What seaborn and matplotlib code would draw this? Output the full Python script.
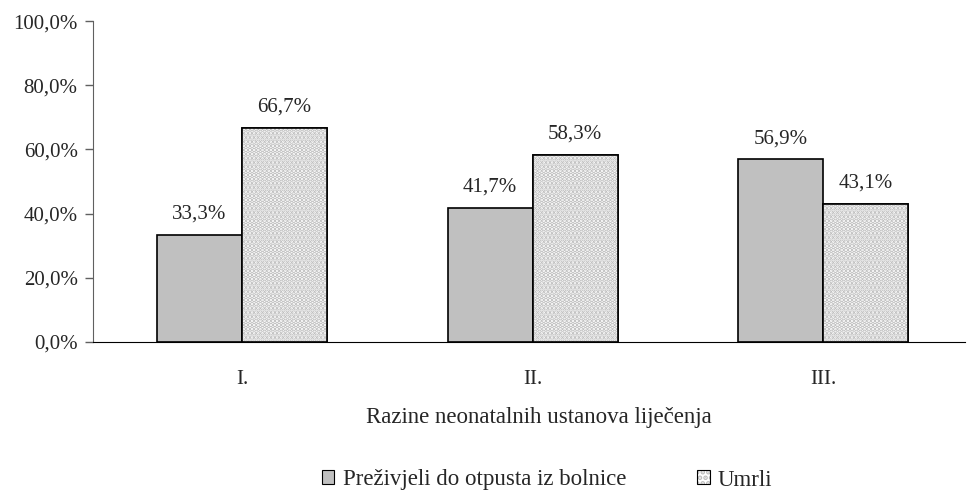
import pandas as pd
import matplotlib.pyplot as plt
import seaborn as sns
from matplotlib.patches import Patch
from matplotlib.legend_handler import HandlerTuple

# data
razine = ['I.', 'II.', 'III.']
prezivjeli = [33.3, 41.7, 56.9]
umrli = [66.7, 58.3, 43.1]
serije = ['Preživjeli do otpusta iz bolnice', 'Umrli']

df = pd.DataFrame({
    'razina': razine * 2,
    'udio': prezivjeli + umrli,
    'ishod': [serije[0]] * 3 + [serije[1]] * 3,
})

sns.set_style('white')
plt.rcParams['font.family'] = ['Liberation Serif', 'DejaVu Serif']
plt.rcParams['hatch.linewidth'] = 2.4

fig = plt.figure(figsize=(9.74, 4.92), dpi=100)
ax = fig.add_axes([0.0955, 0.305, 0.8955, 0.652])

sns.barplot(data=df, x='razina', y='udio', hue='ishod', ax=ax,
            palette=['#c0c0c0', 'white'], width=0.585, gap=0,
            edgecolor='black', linewidth=1.2, legend=False)

# tockasta ispuna za "Umrli"
for bar in ax.patches[3:6]:
    x, w, h = bar.get_x(), bar.get_width(), bar.get_height()
    ax.bar(x + w / 2, h, width=w, facecolor='white', edgecolor='#bdbdbd',
           hatch='....', linewidth=0, zorder=2)
    ax.bar(x + w / 2, h, width=w, facecolor='none', edgecolor='black',
           linewidth=1.2, zorder=3)

for bar in ax.patches[:6]:
    h = bar.get_height()
    ax.text(bar.get_x() + bar.get_width() / 2, h + 3.5,
            f'{h:.1f}%'.replace('.', ','), ha='center', va='bottom', fontsize=15)

ax.set_ylim(0, 100)
ax.set_xlim(-0.513, 2.489)
ax.set_yticks(range(0, 101, 20))
ax.set_yticklabels([f'{v},0%' for v in range(0, 101, 20)], fontsize=15)
ax.set_xticks([0, 1, 2])
ax.set_xticklabels(razine, fontsize=15)
ax.set_xticks([0.513, 1.513], minor=True)
ax.tick_params(axis='x', which='major', length=0, pad=20)
ax.tick_params(axis='x', which='minor', length=6, width=1, color='#606060', direction='out')
ax.tick_params(axis='y', length=6, width=1, color='#606060', direction='out', left=True, pad=5)
ax.set_xlabel('Razine neonatalnih ustanova liječenja', fontsize=16.5)
ax.xaxis.set_label_coords(0.511, -0.202)
ax.set_ylabel('')

for s in ['top', 'right']:
    ax.spines[s].set_visible(False)
ax.spines['left'].set_color('#606060')
ax.spines['bottom'].set_color('black')

h1 = Patch(facecolor='#c0c0c0', edgecolor='black', linewidth=0.8)
h2a = Patch(facecolor='white', edgecolor='#bdbdbd', hatch='...', linewidth=0)
h2b = Patch(facecolor='none', edgecolor='black', linewidth=0.8)
fig.legend(handles=[h1, (h2a, h2b)], labels=serije, loc='center',
           bbox_to_anchor=(547 / 974, 1 - 480 / 492), ncol=2, frameon=False, fontsize=16.5,
           handlelength=0.55, handleheight=0.55, handletextpad=0.36, columnspacing=3.1,
           borderpad=0, handler_map={tuple: HandlerTuple(ndivide=1, pad=0)})

fig.savefig('out.png', dpi=100)
